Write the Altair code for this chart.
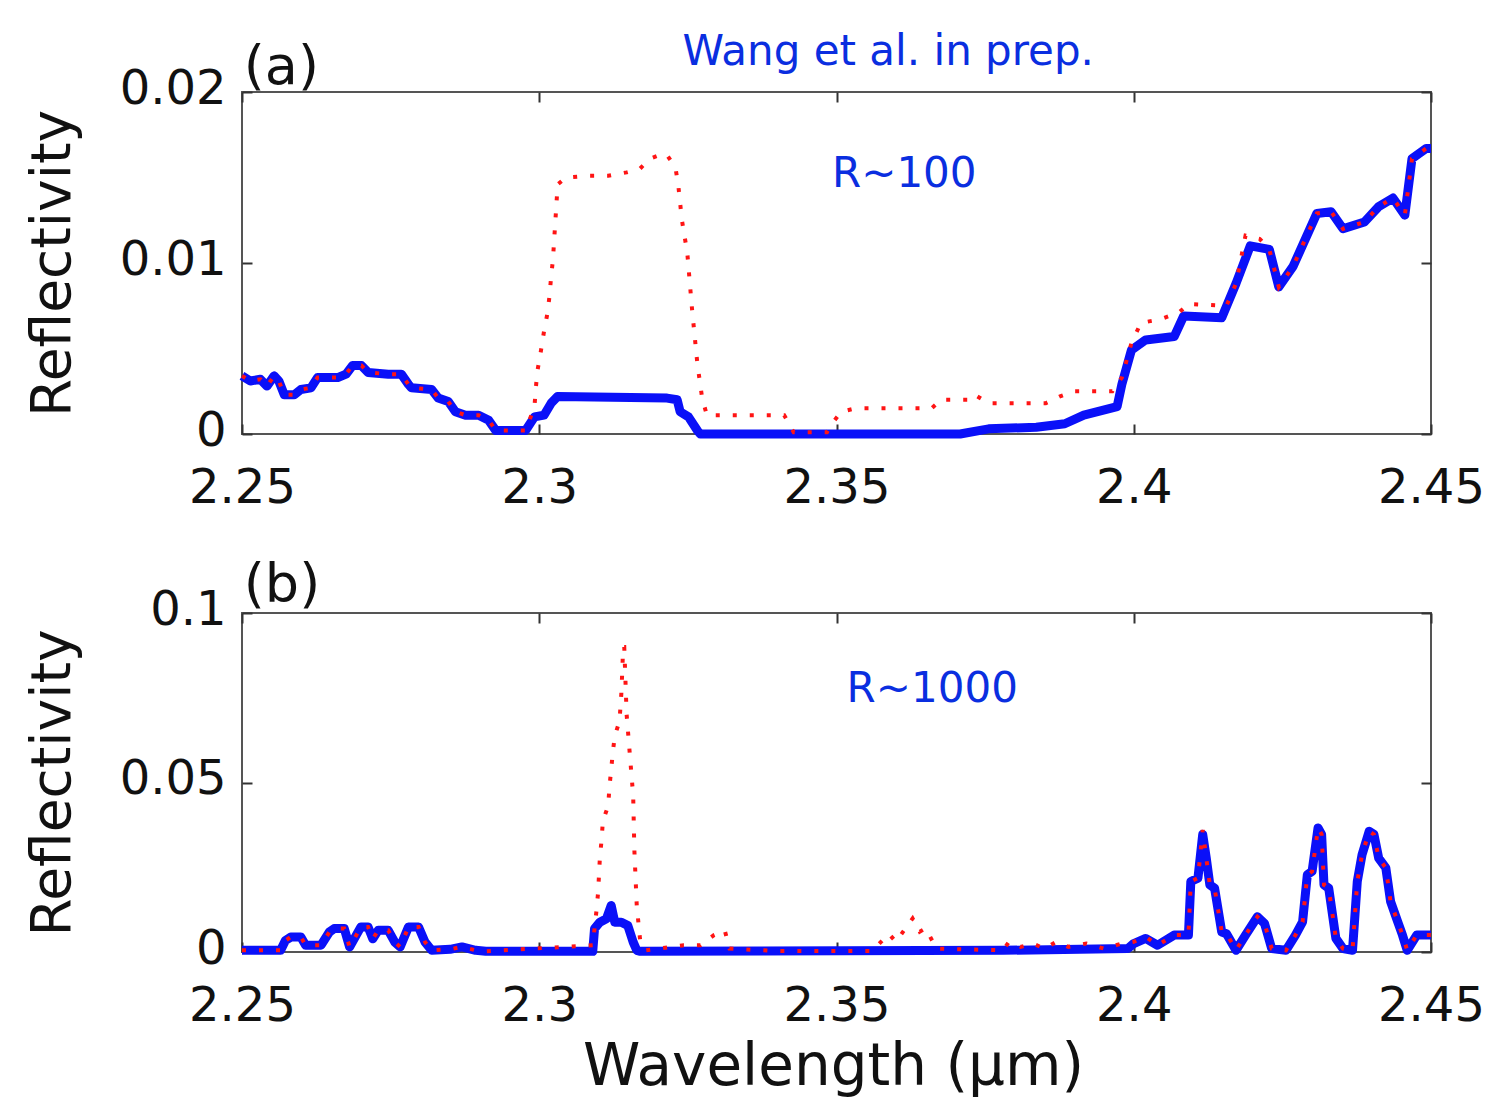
import altair as alt
import pandas as pd

# ---------------- data ----------------
x_ticks = [2.25, 2.3, 2.35, 2.4, 2.45]
a_y_ticks = [0, 0.01, 0.02]
b_y_ticks = [0, 0.05, 0.1]

# Panel (a), R~100 : blue solid
a_blue_wl = [2.2500, 2.2514, 2.2531, 2.2542, 2.2554, 2.2562, 2.2571, 2.2588, 2.2599, 2.2616,
             2.2627, 2.2661, 2.2675, 2.2686, 2.2701, 2.2712, 2.2746, 2.2768, 2.2780, 2.2785,
             2.2819, 2.2830, 2.2847, 2.2859, 2.2876, 2.2898, 2.2915, 2.2927, 2.2977, 2.2992,
             2.3008, 2.3020, 2.3031, 2.3215, 2.3232, 2.3237, 2.3251, 2.3266, 2.3271, 2.3708,
             2.3756, 2.3836, 2.3884, 2.3916, 2.3972, 2.3980, 2.3996, 2.4020, 2.4068, 2.4084,
             2.4148, 2.4172, 2.4196, 2.4228, 2.4244, 2.4268, 2.4308, 2.4332, 2.4352, 2.4388,
             2.4412, 2.4436, 2.4456, 2.4468, 2.4492, 2.4500]
a_blue_r = [0.0034, 0.0031, 0.0032, 0.0028, 0.0034, 0.0031, 0.0023, 0.0023, 0.0026, 0.0027,
            0.0033, 0.0033, 0.0035, 0.0040, 0.0040, 0.0036, 0.0035, 0.0035, 0.0029, 0.0027,
            0.0026, 0.0021, 0.0019, 0.0013, 0.0011, 0.0011, 0.0008, 0.0002, 0.0002, 0.0010,
            0.0011, 0.0018, 0.0022, 0.0021, 0.0020, 0.0013, 0.0010, 0.0002, 0.0000, 0.0000,
            0.0003, 0.0004, 0.0006, 0.0011, 0.0016, 0.0029, 0.0049, 0.0055, 0.0057, 0.0069,
            0.0068, 0.0088, 0.0110, 0.0108, 0.0086, 0.0098, 0.0129, 0.0130, 0.0120, 0.0124,
            0.0133, 0.0138, 0.0128, 0.0161, 0.0167, 0.0167]

# Panel (a), R~100 : red dotted
a_red_wl = [2.2500, 2.2514, 2.2531, 2.2542, 2.2554, 2.2562, 2.2571, 2.2588, 2.2599, 2.2616,
            2.2627, 2.2661, 2.2675, 2.2686, 2.2701, 2.2712, 2.2746, 2.2768, 2.2780, 2.2785,
            2.2819, 2.2830, 2.2847, 2.2859, 2.2876, 2.2898, 2.2915, 2.2927, 2.2977, 2.2992,
            2.2994, 2.2997, 2.3003, 2.3008, 2.3014, 2.3017, 2.3020, 2.3023, 2.3025, 2.3027,
            2.3029, 2.3031, 2.3045, 2.3082, 2.3116, 2.3147, 2.3169, 2.3186, 2.3209, 2.3215,
            2.3229, 2.3234, 2.3240, 2.3249, 2.3257, 2.3266, 2.3274, 2.3282, 2.3412, 2.3428,
            2.3484, 2.3492, 2.3508, 2.3532, 2.3660, 2.3676, 2.3724, 2.3732, 2.3756, 2.3852,
            2.3876, 2.3900, 2.3964, 2.3980, 2.3996, 2.4012, 2.4044, 2.4076, 2.4092, 2.4156,
            2.4172, 2.4188, 2.4212, 2.4228, 2.4244, 2.4268, 2.4308, 2.4332, 2.4352, 2.4388,
            2.4412, 2.4436, 2.4456, 2.4468, 2.4492, 2.4500]
a_red_r = [0.0034, 0.0031, 0.0032, 0.0028, 0.0034, 0.0031, 0.0023, 0.0023, 0.0026, 0.0027,
           0.0033, 0.0033, 0.0035, 0.0040, 0.0040, 0.0036, 0.0035, 0.0035, 0.0029, 0.0027,
           0.0026, 0.0021, 0.0019, 0.0013, 0.0011, 0.0011, 0.0008, 0.0002, 0.0002, 0.0016,
           0.0026, 0.0037, 0.0049, 0.0060, 0.0071, 0.0080, 0.0092, 0.0102, 0.0113, 0.0124,
           0.0135, 0.0146, 0.0150, 0.0151, 0.0151, 0.0153, 0.0155, 0.0161, 0.0164, 0.0163,
           0.0156, 0.0145, 0.0125, 0.0106, 0.0073, 0.0041, 0.0021, 0.0011, 0.0011, 0.0001,
           0.0001, 0.0006, 0.0013, 0.0015, 0.0015, 0.0020, 0.0020, 0.0023, 0.0018, 0.0018,
           0.0022, 0.0025, 0.0025, 0.0033, 0.0053, 0.0065, 0.0067, 0.0071, 0.0076, 0.0075,
           0.0088, 0.0116, 0.0114, 0.0108, 0.0086, 0.0098, 0.0129, 0.0130, 0.0120, 0.0124,
           0.0133, 0.0138, 0.0128, 0.0161, 0.0167, 0.0167]

# Panel (b), R~1000 : blue solid
b_blue_wl = [2.2500, 2.2565, 2.2573, 2.2582, 2.2599, 2.2607, 2.2633, 2.2647, 2.2655, 2.2672,
             2.2681, 2.2692, 2.2700, 2.2712, 2.2720, 2.2729, 2.2746, 2.2757, 2.2766, 2.2780,
             2.2797, 2.2808, 2.2819, 2.2850, 2.2870, 2.2893, 2.2910, 2.3090, 2.3093, 2.3102,
             2.3113, 2.3121, 2.3127, 2.3138, 2.3149, 2.3158, 2.3164, 2.3170, 2.3780, 2.3990,
             2.4000, 2.4020, 2.4040, 2.4068, 2.4092, 2.4096, 2.4108, 2.4116, 2.4122, 2.4128,
             2.4136, 2.4148, 2.4156, 2.4172, 2.4188, 2.4208, 2.4220, 2.4232, 2.4256, 2.4272,
             2.4284, 2.4292, 2.4300, 2.4310, 2.4316, 2.4320, 2.4328, 2.4340, 2.4352, 2.4368,
             2.4376, 2.4384, 2.4396, 2.4404, 2.4412, 2.4424, 2.4432, 2.4444, 2.4452, 2.4460,
             2.4476, 2.4500]
b_blue_r = [0.0005, 0.0005, 0.0034, 0.0044, 0.0044, 0.0020, 0.0020, 0.0059, 0.0069, 0.0069,
            0.0015, 0.0049, 0.0074, 0.0074, 0.0039, 0.0064, 0.0064, 0.0029, 0.0015, 0.0074,
            0.0074, 0.0029, 0.0005, 0.0008, 0.0015, 0.0005, 0.0002, 0.0002, 0.0069, 0.0088,
            0.0098, 0.0137, 0.0088, 0.0088, 0.0078, 0.0029, 0.0005, 0.0002, 0.0005, 0.0010,
            0.0025, 0.0040, 0.0020, 0.0050, 0.0050, 0.0208, 0.0218, 0.0347, 0.0277, 0.0198,
            0.0188, 0.0059, 0.0054, 0.0005, 0.0050, 0.0104, 0.0084, 0.0010, 0.0005, 0.0050,
            0.0089, 0.0228, 0.0238, 0.0366, 0.0347, 0.0198, 0.0188, 0.0040, 0.0010, 0.0005,
            0.0208, 0.0287, 0.0356, 0.0347, 0.0277, 0.0248, 0.0149, 0.0089, 0.0050, 0.0005,
            0.0050, 0.0050]

# Panel (b), R~1000 : red dotted
b_red_wl = [2.2500, 2.2565, 2.2573, 2.2582, 2.2599, 2.2607, 2.2633, 2.2647, 2.2655, 2.2672,
            2.2681, 2.2692, 2.2700, 2.2712, 2.2720, 2.2729, 2.2746, 2.2757, 2.2766, 2.2780,
            2.2797, 2.2808, 2.2819, 2.2850, 2.2870, 2.2893, 2.2910, 2.3090, 2.3096, 2.3099,
            2.3102, 2.3105, 2.3107, 2.3116, 2.3118, 2.3121, 2.3124, 2.3127, 2.3135, 2.3138,
            2.3140, 2.3141, 2.3143, 2.3147, 2.3153, 2.3158, 2.3160, 2.3164, 2.3167, 2.3170,
            2.3180, 2.3243, 2.3271, 2.3294, 2.3312, 2.3320, 2.3400, 2.3560, 2.3588, 2.3600,
            2.3628, 2.3640, 2.3650, 2.3668, 2.3780, 2.3790, 2.3810, 2.3830, 2.3850, 2.3870,
            2.3890, 2.3920, 2.3950, 2.3980, 2.4000, 2.4020, 2.4040, 2.4068, 2.4092, 2.4096,
            2.4108, 2.4116, 2.4122, 2.4128, 2.4136, 2.4148, 2.4156, 2.4172, 2.4188, 2.4208,
            2.4220, 2.4232, 2.4256, 2.4272, 2.4284, 2.4292, 2.4300, 2.4310, 2.4316, 2.4320,
            2.4328, 2.4340, 2.4352, 2.4368, 2.4376, 2.4384, 2.4396, 2.4404, 2.4412, 2.4424,
            2.4432, 2.4444, 2.4452, 2.4460, 2.4476, 2.4500]
b_red_r = [0.0005, 0.0005, 0.0034, 0.0044, 0.0044, 0.0020, 0.0020, 0.0059, 0.0069, 0.0069,
           0.0015, 0.0049, 0.0074, 0.0074, 0.0039, 0.0064, 0.0064, 0.0029, 0.0015, 0.0074,
           0.0074, 0.0029, 0.0005, 0.0008, 0.0015, 0.0005, 0.0002, 0.0020, 0.0118, 0.0176,
           0.0279, 0.0333, 0.0387, 0.0431, 0.0485, 0.0539, 0.0593, 0.0637, 0.0681, 0.0760,
           0.0843, 0.0900, 0.0900, 0.0700, 0.0569, 0.0461, 0.0300, 0.0137, 0.0083, 0.0029,
           0.0005, 0.0020, 0.0020, 0.0050, 0.0064, 0.0010, 0.0003, 0.0003, 0.0054, 0.0030,
           0.0099, 0.0060, 0.0070, 0.0010, 0.0005, 0.0030, 0.0015, 0.0025, 0.0010, 0.0030,
           0.0015, 0.0025, 0.0010, 0.0025, 0.0030, 0.0045, 0.0020, 0.0050, 0.0050, 0.0208,
           0.0218, 0.0360, 0.0277, 0.0198, 0.0188, 0.0059, 0.0054, 0.0005, 0.0050, 0.0104,
           0.0084, 0.0010, 0.0005, 0.0050, 0.0089, 0.0228, 0.0238, 0.0366, 0.0347, 0.0198,
           0.0188, 0.0040, 0.0010, 0.0005, 0.0208, 0.0287, 0.0356, 0.0347, 0.0277, 0.0248,
           0.0149, 0.0089, 0.0050, 0.0005, 0.0050, 0.0050]

# annotations: (text, wavelength, reflectivity)
a_notes_text = ["(a)", "Wang et al. in prep.", "R~100"]
a_notes_wl = [2.2503, 2.3587, 2.3614]
a_notes_r = [0.02047, 0.02158, 0.01444]
b_notes_text = ["(b)", "R~1000"]
b_notes_wl = [2.2503, 2.3661]
b_notes_r = [0.1032, 0.0737]

# ---------------- styling ----------------
FONT = "DejaVu Sans"
W = 1189
BLUE = "#0a10f8"
RED = "#ff1414"
NOTE_BLUE = "#0a2ee0"
TICK_C = "#333333"


def tick_axis(orient, values):
    return alt.Axis(orient=orient, offset=-10, values=values, labels=False, domain=False,
                    grid=False, ticks=True, tickSize=10, tickWidth=2, tickColor=TICK_C,
                    title=None)


def panel(blue_wl, blue_r, red_wl, red_r, ymax, yticks, h, notes, xtitle):
    xs = alt.Scale(domain=[2.25, 2.45], nice=False, zero=False)
    ys = alt.Scale(domain=[0, ymax], nice=False, zero=True)
    blue_df = pd.DataFrame({"wl": blue_wl, "r": blue_r})
    red_df = pd.DataFrame({"wl": red_wl, "r": red_r})

    x_kw = dict(orient="bottom", values=x_ticks, format=".2~f", ticks=False, domain=False,
                grid=False, labelPadding=30, labelFlush=False, labelFont=FONT,
                labelFontSize=48, labelColor="#111111", labelOverlap=False)
    if xtitle:
        x_kw.update(title="Wavelength (µm)", titleFont=FONT, titleFontSize=58,
                    titleFontWeight="normal", titleColor="#111111", titleX=591, titleY=132,
                    titleAlign="center", titleBaseline="alphabetic", titleAngle=0)
    else:
        x_kw.update(title=None)
    x_main = alt.Axis(**x_kw)
    y_main = alt.Axis(orient="left", values=yticks, format=".2~f", ticks=False, domain=False,
                      grid=False, labelPadding=16, labelFlush=False, labelFont=FONT,
                      labelFontSize=48, labelColor="#111111", labelOverlap=False,
                      labelOffset=-3,
                      title="Reflectivity", titleFont=FONT, titleFontSize=55,
                      titleFontWeight="normal", titleColor="#111111", titleX=-173,
                      titleY=h / 2, titleAngle=270, titleAlign="center",
                      titleBaseline="alphabetic")

    blue = alt.Chart(blue_df).mark_line(color=BLUE, strokeWidth=9, strokeJoin="round").encode(
        x=alt.X("wl:Q", scale=xs, axis=x_main),
        y=alt.Y("r:Q", scale=ys, axis=y_main),
    )
    red = alt.Chart(red_df).mark_line(color=RED, strokeWidth=4, strokeDash=[4, 13]).encode(
        x=alt.X("wl:Q", scale=xs, axis=tick_axis("bottom", x_ticks)),
        y=alt.Y("r:Q", scale=ys, axis=tick_axis("left", yticks)),
    )
    frame_ticks = alt.Chart(blue_df).mark_line(opacity=0).encode(
        x=alt.X("wl:Q", scale=xs, axis=tick_axis("top", x_ticks)),
        y=alt.Y("r:Q", scale=ys, axis=tick_axis("right", yticks)),
    )
    layers = [blue, red, frame_ticks]
    for txt, wl, r in notes:
        is_letter = txt.startswith("(")
        ndf = pd.DataFrame({"t": [txt], "wl": [wl], "r": [r]})
        layers.append(
            alt.Chart(ndf).mark_text(
                font=FONT,
                fontSize=54 if is_letter else 42,
                color="#111111" if is_letter else NOTE_BLUE,
                align="left" if is_letter else "center",
                baseline="alphabetic",
            ).encode(
                x=alt.X("wl:Q", scale=xs, axis=None),
                y=alt.Y("r:Q", scale=ys, axis=None),
                text="t:N",
            )
        )
    return (
        alt.layer(*layers)
        .resolve_scale(x="shared", y="shared")
        .resolve_axis(x="independent", y="independent")
        .properties(width=W, height=h)
    )


pa = panel(a_blue_wl, a_blue_r, a_red_wl, a_red_r, 0.02, a_y_ticks, 342,
           list(zip(a_notes_text, a_notes_wl, a_notes_r)), False)
pb = panel(b_blue_wl, b_blue_r, b_red_wl, b_red_r, 0.1, b_y_ticks, 339,
           list(zip(b_notes_text, b_notes_wl, b_notes_r)), True)

chart = (
    alt.vconcat(pa, pb, spacing=179, bounds="flush")
    .properties(padding={"left": 24, "top": 29, "right": 5, "bottom": 0}, background="white")
    .configure_view(stroke="#555555", strokeWidth=2)
)

chart.save("out.html", embed_options={"renderer": "svg", "actions": False})
